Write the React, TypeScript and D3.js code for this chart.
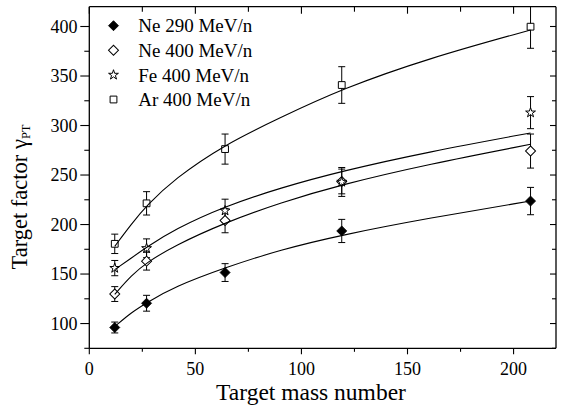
import React from "react";
import * as d3 from "d3";

// ---- data ----
const targetMass = [12, 27, 64, 119, 208];

const ne290 = [96, 120.5, 151.5, 193.5, 223.7];
const ne290Err = [5.5, 8, 9, 11.7, 13.8];
const ne400 = [129.8, 163, 204, 243.5, 274.2];
const ne400Err = [7.5, 9, 12.3, 12.5, 17.2];
const fe400 = [156, 176, 214, 243, 313];
const fe400Err = [7.7, 9.5, 11.6, 14.6, 16.2];
const ar400 = [180.5, 221.4, 276.2, 340.9, 399.8];
const ar400Err = [9.8, 11.8, 15.2, 18.5, 21.8];

// fitted curves, values
const fitMass = [12, 20, 27, 40, 64, 90, 119, 160, 208];
const ne290Fit = [97, 111.5, 121, 137, 156.5, 174.5, 189.5, 206.5, 223.7];
const ne400Fit = [129.5, 149, 161.5, 178.5, 202, 222, 240.5, 261, 281];
const fe400Fit = [154.5, 166.5, 177, 195, 218.5, 237, 254, 273.5, 292.5];
const ar400Fit = [178, 201, 219, 246, 281, 308, 337, 368, 396.5];

const seriesNames = ["Ne 290 MeV/n", "Ne 400 MeV/n", "Fe 400 MeV/n", "Ar 400 MeV/n"];
const seriesSymbols = ["filledDiamond", "openDiamond", "star", "square"];

const xMajorTicks = [0, 50, 100, 150, 200];
const xMinorTicks = [25, 75, 125, 175];
const yMajorTicks = [100, 150, 200, 250, 300, 350, 400];
const yMinorTicks = [75, 125, 175, 225, 275, 325, 375];

const xTitle = "Target mass number";

// ---- layout ----
const W = 562;
const H = 412;
const L = 89.3;
const R = 556;
const T = 6.7;
const B = 348.3;
const FONT = "Liberation Serif, Times New Roman, serif";

export default function App() {
  const x = d3.scaleLinear().domain([0, 220]).range([L, R]);
  const y = d3.scaleLinear().domain([75, 420]).range([B, T]);

  const series = [
    { vals: ne290, err: ne290Err, fit: ne290Fit, sym: seriesSymbols[0], name: seriesNames[0] },
    { vals: ne400, err: ne400Err, fit: ne400Fit, sym: seriesSymbols[1], name: seriesNames[1] },
    { vals: fe400, err: fe400Err, fit: fe400Fit, sym: seriesSymbols[2], name: seriesNames[2] },
    { vals: ar400, err: ar400Err, fit: ar400Fit, sym: seriesSymbols[3], name: seriesNames[3] },
  ];

  const line = d3
    .line<number>()
    .x((_, i) => x(fitMass[i]))
    .y((d) => y(d))
    .curve(d3.curveBasis);

  const diamondPath = d3.symbol(d3.symbolSquare, 50)() as string;
  const squarePath = d3.symbol(d3.symbolSquare, 46)() as string;
  const starPath = d3.symbol(d3.symbolStar, 30)() as string;

  const marker = (sym: string, cx: number, cy: number, key: string) => {
    if (sym === "filledDiamond")
      return (
        <path key={key} d={diamondPath} transform={`translate(${cx},${cy}) rotate(45)`} fill="#000" stroke="#000" strokeWidth={0.8} />
      );
    if (sym === "openDiamond")
      return (
        <path key={key} d={diamondPath} transform={`translate(${cx},${cy}) rotate(45)`} fill="#fff" stroke="#000" strokeWidth={1} />
      );
    if (sym === "star")
      return <path key={key} d={starPath} transform={`translate(${cx},${cy})`} fill="#fff" stroke="#000" strokeWidth={1} />;
    return <path key={key} d={squarePath} transform={`translate(${cx},${cy})`} fill="#fff" stroke="#000" strokeWidth={1} />;
  };

  const legendY0 = 25.7;
  const legendDy = 24.6;

  return (
    <svg
      width={W}
      height={H}
      style={{ position: "absolute", left: 0, top: 0, display: "block", background: "#fff" }}
    >
      <defs>
        <clipPath id="plotClip">
          <rect x={L} y={T} width={R - L} height={B - T} />
        </clipPath>
      </defs>
      <rect x={0} y={0} width={W} height={H} fill="#fff" />

      {/* error bars */}
      <g clipPath="url(#plotClip)" stroke="#000" strokeWidth={1}>
        {series.map((s, si) =>
          s.vals.map((v, i) => {
            const cx = x(targetMass[i]);
            const y1 = y(v + s.err[i]);
            const y2 = y(v - s.err[i]);
            return (
              <g key={`e${si}-${i}`}>
                <line x1={cx} x2={cx} y1={y1} y2={y2} />
                <line x1={cx - 3.5} x2={cx + 3.5} y1={y1} y2={y1} />
                <line x1={cx - 3.5} x2={cx + 3.5} y1={y2} y2={y2} />
              </g>
            );
          })
        )}
      </g>

      {/* markers */}
      <g>
        {series.map((s, si) => s.vals.map((v, i) => marker(s.sym, x(targetMass[i]), y(v), `m${si}-${i}`)))}
      </g>

      {/* fit curves */}
      <g clipPath="url(#plotClip)" fill="none" stroke="#000" strokeWidth={1.1}>
        {series.map((s, si) => (
          <path key={`f${si}`} d={line(s.fit) as string} />
        ))}
      </g>

      {/* axes frame */}
      <g stroke="#000" strokeWidth={1.3}>
        <line x1={L} x2={R} y1={B} y2={B} />
        <line x1={L} x2={R} y1={T} y2={T} />
        <line x1={L} x2={L} y1={T} y2={B} />
        <line x1={R} x2={R} y1={T} y2={B} />
      </g>

      {/* ticks */}
      <g stroke="#000" strokeWidth={1.1}>
        {xMajorTicks.map((t) => (
          <g key={`xt${t}`}>
            <line x1={x(t)} x2={x(t)} y1={B} y2={B + 6} />
            <line x1={x(t)} x2={x(t)} y1={T} y2={T + 7} />
          </g>
        ))}
        {xMinorTicks.map((t) => (
          <g key={`xm${t}`}>
            <line x1={x(t)} x2={x(t)} y1={B} y2={B + 3.5} />
            <line x1={x(t)} x2={x(t)} y1={T} y2={T + 5} />
          </g>
        ))}
        {yMajorTicks.map((t) => (
          <g key={`yt${t}`}>
            <line x1={L - 9} x2={L} y1={y(t)} y2={y(t)} />
            <line x1={R - 6} x2={R} y1={y(t)} y2={y(t)} />
          </g>
        ))}
        {yMinorTicks.map((t) => (
          <g key={`ym${t}`}>
            <line x1={L - 5} x2={L} y1={y(t)} y2={y(t)} />
            <line x1={R - 4} x2={R} y1={y(t)} y2={y(t)} />
          </g>
        ))}
      </g>

      {/* tick labels */}
      <g fontSize={18} fill="#000" fontFamily={FONT}>
        {xMajorTicks.map((t) => (
          <text key={`xl${t}`} x={x(t)} y={374.5} textAnchor="middle" fontFamily={FONT}>
            {t}
          </text>
        ))}
        {yMajorTicks.map((t) => (
          <text key={`yl${t}`} x={77.5} y={y(t) + 6.2} textAnchor="end" fontFamily={FONT}>
            {t}
          </text>
        ))}
      </g>

      {/* axis titles */}
      <text x={311} y={400} textAnchor="middle" fontSize={23.5} fill="#000" fontFamily={FONT}>
        {xTitle}
      </text>
      <text
        transform="translate(27,197) rotate(-90)"
        textAnchor="middle"
        fontSize={22.5}
        fill="#000"
        fontFamily={FONT}
      >
        Target factor γ
        <tspan fontSize={12.5} dy={3}>
          PT
        </tspan>
      </text>

      {/* legend */}
      <g>
        {series.map((s, si) => {
          const cy = legendY0 + si * legendDy;
          return (
            <g key={`lg${si}`}>
              {marker(s.sym, 113.5, cy, `lm${si}`)}
              <text x={138.3} y={cy + 6.6} fontSize={19} fill="#000" fontFamily={FONT}>
                {s.name}
              </text>
            </g>
          );
        })}
      </g>
    </svg>
  );
}
